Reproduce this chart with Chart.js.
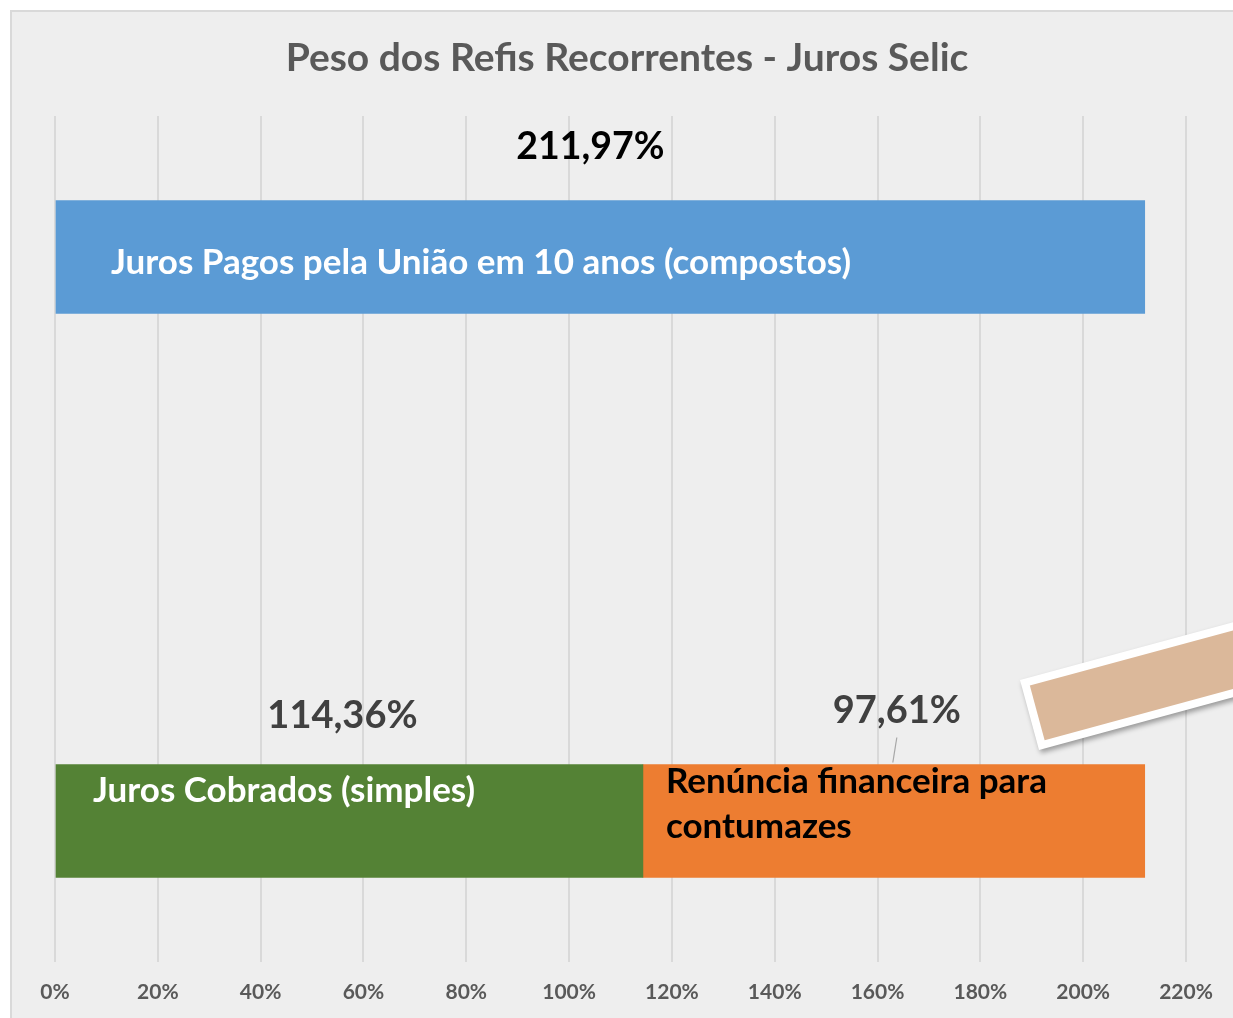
<!DOCTYPE html>
<html>
<head>
<meta charset="utf-8">
<script src="https://cdn.jsdelivr.net/npm/chart.js@4"></script>
<style>
html,body{margin:0;padding:0;background:#fff;}
#wrap{width:1233px;height:1018px;position:relative;}
</style>
</head>
<body>
<div id="wrap"><canvas id="c" width="1233" height="1018"></canvas></div>
<script>
// ---- data ----
const chartTitle = 'Peso dos Refis Recorrentes - Juros Selic';
const categories = ['Juros Pagos', '', 'Juros Cobrados + Renúncia'];
const seriesNames = [
  ['Juros Pagos pela União em 10 anos (compostos)'],
  ['Juros Cobrados (simples)'],
  ['Renúncia financeira para', 'contumazes']
];
const jurosPagos = [211.97, null, null];
const jurosCobrados = [null, null, 114.36];
const renuncia = [null, null, 97.61];
const xMin = 0, xMax = 220, xStep = 20;

const FONT = 'Lato, "Open Sans", sans-serif';
const fmt = v => v.toFixed(2).replace('.', ',') + '%';

const bgPlugin = {
  id: 'bgCard',
  beforeDraw(chart) {
    const ctx = chart.ctx;
    ctx.save();
    ctx.fillStyle = '#ffffff';
    ctx.fillRect(0, 0, chart.width, chart.height);
    ctx.fillStyle = '#eeeeee';
    ctx.fillRect(11, 11, chart.width, chart.height);
    ctx.strokeStyle = '#d9d9d9';
    ctx.lineWidth = 2;
    ctx.strokeRect(11, 11, chart.width + 10, chart.height + 10);
    // title
    ctx.font = 'bold 39px ' + FONT;
    ctx.fillStyle = '#595959';
    ctx.textAlign = 'center';
    ctx.textBaseline = 'middle';
    ctx.fillText(chartTitle, 627, 58);
    ctx.restore();
  }
};

const labelPlugin = {
  id: 'barLabels',
  afterDatasetsDraw(chart, args, opts) {
    const ctx = chart.ctx;
    chart.data.datasets.forEach((ds, di) => {
      const st = opts.styles[di];
      const meta = chart.getDatasetMeta(di);
      meta.data.forEach((bar, i) => {
        const v = ds.data[i];
        if (v == null) return;
        const p = bar.getProps(['x', 'y', 'base', 'height'], true);
        const left = Math.min(p.x, p.base), right = Math.max(p.x, p.base);
        const top = p.y - p.height / 2;
        const cx = (left + right) / 2;
        ctx.save();
        // value label above bar
        ctx.font = 'bold ' + st.valueSize + 'px ' + FONT;
        ctx.fillStyle = st.valueColor;
        ctx.textAlign = 'center';
        ctx.textBaseline = 'middle';
        const vx = cx + st.valueDx, vy = top - st.valueUp;
        ctx.fillText(fmt(v), vx, vy);
        if (st.leader) {
          ctx.strokeStyle = '#a6a6a6';
          ctx.lineWidth = 1.2;
          ctx.beginPath();
          ctx.moveTo(vx, vy + 27);
          ctx.lineTo(vx - 4, top - 2);
          ctx.stroke();
        }
        // series name inside bar
        ctx.font = 'bold ' + opts.nameSize + 'px ' + FONT;
        ctx.fillStyle = st.nameColor;
        ctx.textAlign = 'left';
        const lines = seriesNames[di];
        lines.forEach((ln, k) => {
          ctx.fillText(ln, left + st.nameDx, top + st.nameTop + k * opts.lineGap);
        });
        ctx.restore();
      });
    });
  }
};

const shapePlugin = {
  id: 'tiltedShape',
  afterDraw(chart) {
    const ctx = chart.ctx;
    ctx.save();
    ctx.translate(1020, 680);
    ctx.rotate(-15.2 * Math.PI / 180);
    ctx.shadowColor = 'rgba(0,0,0,0.35)';
    ctx.shadowBlur = 5;
    ctx.shadowOffsetX = 2;
    ctx.shadowOffsetY = 3;
    ctx.fillStyle = '#ffffff';
    ctx.fillRect(0, 0, 400, 72.5);
    ctx.shadowColor = 'transparent';
    ctx.fillStyle = '#dbb89a';
    ctx.fillRect(8, 8, 400, 56.5);
    ctx.restore();
  }
};

new Chart(document.getElementById('c'), {
  type: 'bar',
  data: {
    labels: categories,
    datasets: [
      { label: seriesNames[0].join(' '), data: jurosPagos, backgroundColor: '#5b9bd5', barThickness: 113 },
      { label: seriesNames[1].join(' '), data: jurosCobrados, backgroundColor: '#548235', barThickness: 113 },
      { label: seriesNames[2].join(' '), data: renuncia, backgroundColor: '#ed7d31', barThickness: 113 }
    ]
  },
  options: {
    indexAxis: 'y',
    responsive: false,
    animation: false,
    layout: { padding: { left: 55, right: 47, top: 116, bottom: 14 } },
    scales: {
      x: {
        stacked: true,
        min: xMin, max: xMax,
        afterFit(s) { s.height = 42; },
        ticks: {
          stepSize: xStep,
          callback: v => v + '%',
          color: '#595959',
          font: { family: FONT, size: 21, weight: 'bold' },
          padding: 18,
          maxRotation: 0
        },
        grid: { color: '#d9d9d9', lineWidth: 2, drawTicks: false },
        border: { display: false }
      },
      y: {
        stacked: true,
        display: false
      }
    },
    plugins: {
      legend: { display: false },
      tooltip: { enabled: false },
      title: { display: false },
      barLabels: {
        nameSize: 35,
        lineGap: 45,
        styles: [
          { valueSize: 37.5, valueColor: '#000000', nameColor: '#ffffff', valueDx: -10, valueUp: 54, nameDx: 55, nameTop: 62 },
          { valueSize: 38, valueColor: '#404040', nameColor: '#ffffff', valueDx: -7, valueUp: 49, nameDx: 37, nameTop: 26 },
          { valueSize: 38, valueColor: '#404040', nameColor: '#000000', valueDx: 3, valueUp: 54, nameDx: 23, nameTop: 17, leader: true }
        ]
      }
    }
  },
  plugins: [bgPlugin, labelPlugin, shapePlugin]
});
</script>
</body>
</html>
